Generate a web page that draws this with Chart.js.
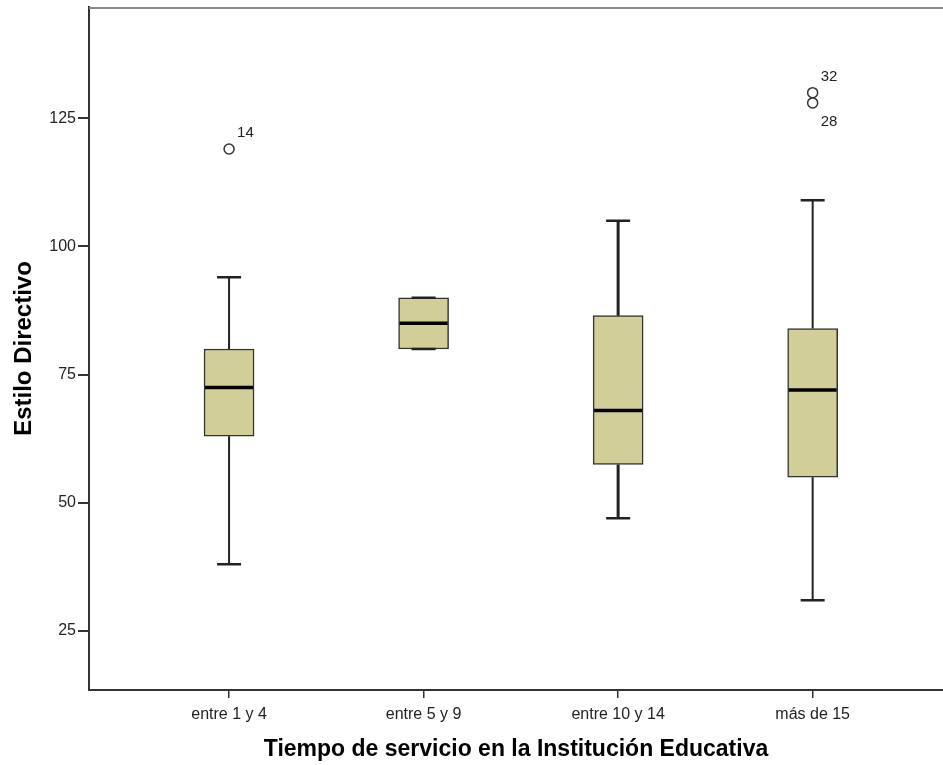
<!DOCTYPE html>
<html>
<head>
<meta charset="utf-8">
<script src="https://cdn.jsdelivr.net/npm/chart.js@4.4.1/dist/chart.umd.min.js"></script>
<style>
  body { margin: 0; background: #fff; overflow: hidden; }
  #wrap { width: 943px; height: 765px; position: relative; }
</style>
</head>
<body>
<div id="wrap"><canvas id="boxChart"></canvas></div>
<script>
// Box plot values
const categories = ['entre 1 y 4', 'entre 5 y 9', 'entre 10 y 14', 'más de 15'];
const minValues = [38, 80, 47, 31];
const q1Values = [63, 80, 57.5, 55];
const medianValues = [72.5, 85, 68, 72];
const q3Values = [80, 90, 86.5, 84];
const maxValues = [94, 90, 105, 109];

// outliers: group number (1..4), value, case id
const outlierGroups = [1, 4, 4];
const outlierValues = [119, 130, 128];
const outlierIds = ['14', '32', '28'];

const yTicks = [25, 50, 75, 100, 125];

const boxFill = 'rgb(210, 206, 151)';
const lineColor = '#222';

const boxData = categories.map((c, i) => ({ x: i + 1, y: [q1Values[i], q3Values[i]] }));
const outlierData = outlierValues.map((v, i) => ({ x: outlierGroups[i], y: v }));

// whiskers, caps, medians and case labels, drawn through the chart scales
const boxPlotLines = {
    id: 'boxPlotLines',
    afterDatasetsDraw(chart) {
        const { ctx, scales: { x, y }, chartArea } = chart;
        ctx.save();
        // top frame line
        ctx.strokeStyle = '#888';
        ctx.lineWidth = 2;
        ctx.beginPath();
        ctx.moveTo(chartArea.left, chartArea.top + 1);
        ctx.lineTo(chartArea.right, chartArea.top + 1);
        ctx.stroke();

        categories.forEach((c, i) => {
            const cx = x.getPixelForValue(i + 1);
            const half = 12;
            ctx.strokeStyle = lineColor;
            ctx.lineWidth = i === 2 ? 3 : 2;
            ctx.beginPath();
            if (maxValues[i] > q3Values[i]) {
                ctx.moveTo(cx, y.getPixelForValue(q3Values[i]));
                ctx.lineTo(cx, y.getPixelForValue(maxValues[i]));
            }
            if (minValues[i] < q1Values[i]) {
                ctx.moveTo(cx, y.getPixelForValue(q1Values[i]));
                ctx.lineTo(cx, y.getPixelForValue(minValues[i]));
            }
            ctx.stroke();
            ctx.lineWidth = 2.5;
            ctx.beginPath();
            [maxValues[i], minValues[i]].forEach(v => {
                const py = y.getPixelForValue(v);
                ctx.moveTo(cx - half, py);
                ctx.lineTo(cx + half, py);
            });
            ctx.stroke();
            // median
            ctx.strokeStyle = '#000';
            ctx.lineWidth = 3.5;
            ctx.beginPath();
            const my = y.getPixelForValue(medianValues[i]);
            ctx.moveTo(cx - 24, my);
            ctx.lineTo(cx + 24, my);
            ctx.stroke();
        });

        // outlier case numbers
        ctx.fillStyle = '#222';
        ctx.font = '15px "Liberation Sans", Arial, sans-serif';
        ctx.textAlign = 'left';
        ctx.textBaseline = 'middle';
        outlierValues.forEach((v, i) => {
            const px = x.getPixelForValue(outlierGroups[i]);
            const py = y.getPixelForValue(v);
            const higher = outlierValues.some((w, j) => j !== i && outlierGroups[j] === outlierGroups[i] && w > v);
            ctx.fillText(outlierIds[i], px + 8, higher ? py + 19 : py - 16);
        });
        ctx.restore();
    }
};

const tickFont = { family: '"Liberation Sans", Arial, sans-serif', size: 16 };

new Chart(document.getElementById('boxChart'), {
    type: 'bar',
    data: {
        datasets: [
            {
                type: 'bar',
                data: boxData,
                backgroundColor: boxFill,
                borderColor: '#333',
                borderWidth: 1.5,
                borderSkipped: false,
                barThickness: 50
            },
            {
                type: 'scatter',
                data: outlierData,
                pointRadius: 5,
                pointBackgroundColor: '#fff',
                pointBorderColor: '#333',
                pointBorderWidth: 1.5
            }
        ]
    },
    options: {
        responsive: true,
        maintainAspectRatio: false,
        animation: false,
        layout: { autoPadding: false, padding: { top: 7, right: 0, bottom: 0, left: 0 } },
        plugins: {
            legend: { display: false },
            tooltip: { enabled: false }
        },
        scales: {
            x: {
                type: 'linear',
                offset: false,
                min: 0.28,
                max: 4.67,
                afterBuildTicks: s => { s.ticks = categories.map((c, i) => ({ value: i + 1 })); },
                afterFit: s => { s.height = 75; s.paddingLeft = 0; s.paddingRight = 0; },
                ticks: {
                    callback: v => categories[v - 1],
                    font: tickFont,
                    color: '#222',
                    padding: 7,
                    maxRotation: 0,
                    autoSkip: false
                },
                grid: { offset: false, drawOnChartArea: false, tickLength: 8, color: '#333', lineWidth: 1.5 },
                border: { color: '#333', width: 2 },
                title: {
                    display: true,
                    text: 'Tiempo de servicio en la Institución Educativa',
                    font: { family: '"Liberation Sans", Arial, sans-serif', size: 23, weight: 'bold' },
                    color: '#000',
                    padding: { top: 0, bottom: 2 }
                }
            },
            y: {
                min: 13.5,
                max: 146.7,
                afterBuildTicks: s => { s.ticks = yTicks.map(v => ({ value: v })); },
                afterFit: s => { s.width = 89; s.paddingTop = 0; s.paddingBottom = 0; },
                ticks: { font: tickFont, color: '#222', padding: 2 },
                grid: { drawOnChartArea: false, tickLength: 11, color: '#333', lineWidth: 2 },
                border: { color: '#333', width: 2 },
                title: {
                    display: true,
                    text: 'Estilo Directivo',
                    font: { family: '"Liberation Sans", Arial, sans-serif', size: 24, weight: 'bold' },
                    color: '#000',
                    padding: { top: 10, bottom: 0 }
                }
            }
        }
    },
    plugins: [boxPlotLines]
});
</script>
</body>
</html>
